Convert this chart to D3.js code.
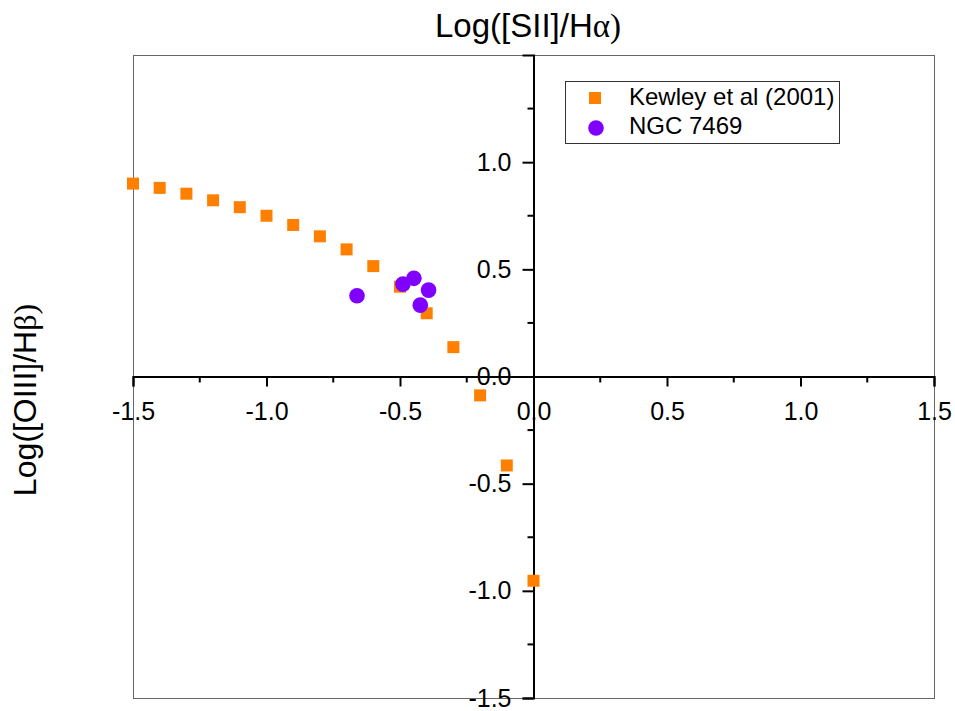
<!DOCTYPE html>
<html>
<head>
<meta charset="utf-8">
<script src="https://cdn.jsdelivr.net/npm/d3@7"></script>
<style>
  body { margin: 0; background: #fff; }
  text { font-family: Arial, "Liberation Sans", sans-serif; }
</style>
</head>
<body>
<div class="plot"></div>
<script>
// Kewley et al (2001) curve
const kewleyX = [-1.5, -1.4, -1.3, -1.2, -1.1, -1.0, -0.9, -0.8, -0.7, -0.6, -0.5, -0.4, -0.3, -0.2, -0.1, 0.0];
const kewleyY = [0.90, 0.88, 0.853, 0.822, 0.79, 0.75, 0.707, 0.654, 0.593, 0.515, 0.419, 0.295, 0.137, -0.088, -0.415, -0.953];

// NGC 7469 points
const ngcX = [-0.661, -0.489, -0.448, -0.393, -0.424];
const ngcY = [0.377, 0.431, 0.458, 0.403, 0.333];

const xTicks = [-1.5, -1.0, -0.5, 0.0, 0.5, 1.0, 1.5];
const yTicks = [-1.5, -1.0, -0.5, 0.0, 0.5, 1.0];
const minorTicks = [-1.25, -0.75, -0.25, 0.25, 0.75, 1.25];

const width = 955;
const height = 711;
const plotLeft = 133, plotRight = 934, plotTop = 55, plotBottom = 698;

const svg = d3.select('.plot')
	.append('svg')
	.attr('width', width)
	.attr('height', height)

const x = d3.scaleLinear().domain([-1.5, 1.5]).range([plotLeft, plotRight]);
const y = d3.scaleLinear().domain([-1.5, 1.5]).range([plotBottom, plotTop]);
const fmt = d => d3.format('.1f')(d).replace('−', '-');

// frame
svg.append('rect')
	.attr('x', plotLeft + 0.5)
	.attr('y', plotTop + 0.5)
	.attr('width', plotRight - plotLeft)
	.attr('height', plotBottom - plotTop)
	.attr('fill', 'none')
	.attr('stroke', '#666')
	.attr('stroke-width', 1)

// x axis through y=0
const xAxis = svg.append('g')
	.attr('transform', `translate(0,${y(0)})`)
	.call(d3.axisBottom(x).tickValues(xTicks).tickSize(10).tickFormat(fmt))
xAxis.select('.domain').attr('stroke-width', 2)
xAxis.selectAll('.tick line').attr('stroke-width', 2)
xAxis.selectAll('text')
	.attr('font-size', '25px')
	.attr('font-family', 'Arial, "Liberation Sans", sans-serif')
	.attr('dy', null)
	.attr('y', 43)
xAxis.append('g')
	.selectAll('line')
	.data(minorTicks)
	.enter()
	.append('line')
	.attr('x1', d => x(d))
	.attr('x2', d => x(d))
	.attr('y1', 0)
	.attr('y2', 6)
	.attr('stroke', '#000')
	.attr('stroke-width', 2)

// y axis through x=0
const yAxis = svg.append('g')
	.attr('transform', `translate(${x(0)},0)`)
	.call(d3.axisLeft(y).tickValues(yTicks).tickSize(11).tickFormat(fmt))
yAxis.select('.domain').attr('stroke-width', 2)
yAxis.selectAll('.tick line').attr('stroke-width', 2)
yAxis.selectAll('text')
	.attr('font-size', '25px')
	.attr('font-family', 'Arial, "Liberation Sans", sans-serif')
	.attr('x', -22)
yAxis.append('g')
	.selectAll('line')
	.data(minorTicks)
	.enter()
	.append('line')
	.attr('x1', 0)
	.attr('x2', -6)
	.attr('y1', d => y(d))
	.attr('y2', d => y(d))
	.attr('stroke', '#000')
	.attr('stroke-width', 2)

// Kewley squares
svg.append('g')
	.selectAll('rect')
	.data(kewleyX)
	.enter()
	.append('rect')
	.attr('x', (d, i) => x(d) - 6)
	.attr('y', (d, i) => y(kewleyY[i]) - 6)
	.attr('width', 12)
	.attr('height', 12)
	.attr('fill', '#ff8000')

// NGC circles
svg.append('g')
	.selectAll('circle')
	.data(ngcX)
	.enter()
	.append('circle')
	.attr('cx', d => x(d))
	.attr('cy', (d, i) => y(ngcY[i]))
	.attr('r', 7.8)
	.attr('fill', '#8000ff')

// titles
const title = svg.append('text')
	.attr('x', 528)
	.attr('y', 37)
	.attr('text-anchor', 'middle')
	.attr('font-size', '33px')
title.append('tspan').text('Log([SII]/H')
title.append('tspan').attr('font-family', '"Liberation Serif", serif').text('α)')

const ylab = svg.append('text')
	.attr('transform', 'translate(36,400) rotate(-90)')
	.attr('text-anchor', 'middle')
	.attr('font-size', '32px')
ylab.append('tspan').text('Log([OIII]/H')
ylab.append('tspan').attr('font-family', '"Liberation Serif", serif').text('β)')

// legend
const legend = svg.append('g')
legend.append('rect')
	.attr('x', 565.5)
	.attr('y', 81.5)
	.attr('width', 274)
	.attr('height', 62)
	.attr('fill', '#fff')
	.attr('stroke', '#333')
	.attr('stroke-width', 1)
legend.append('rect')
	.attr('x', 589)
	.attr('y', 92)
	.attr('width', 12)
	.attr('height', 12)
	.attr('fill', '#ff8000')
legend.append('circle')
	.attr('cx', 596)
	.attr('cy', 128)
	.attr('r', 7.8)
	.attr('fill', '#8000ff')
legend.append('text')
	.attr('x', 629)
	.attr('y', 105)
	.attr('font-size', '24px')
	.text('Kewley et al (2001)')
legend.append('text')
	.attr('x', 629)
	.attr('y', 134)
	.attr('font-size', '24px')
	.text('NGC 7469')
</script>
</body>
</html>
